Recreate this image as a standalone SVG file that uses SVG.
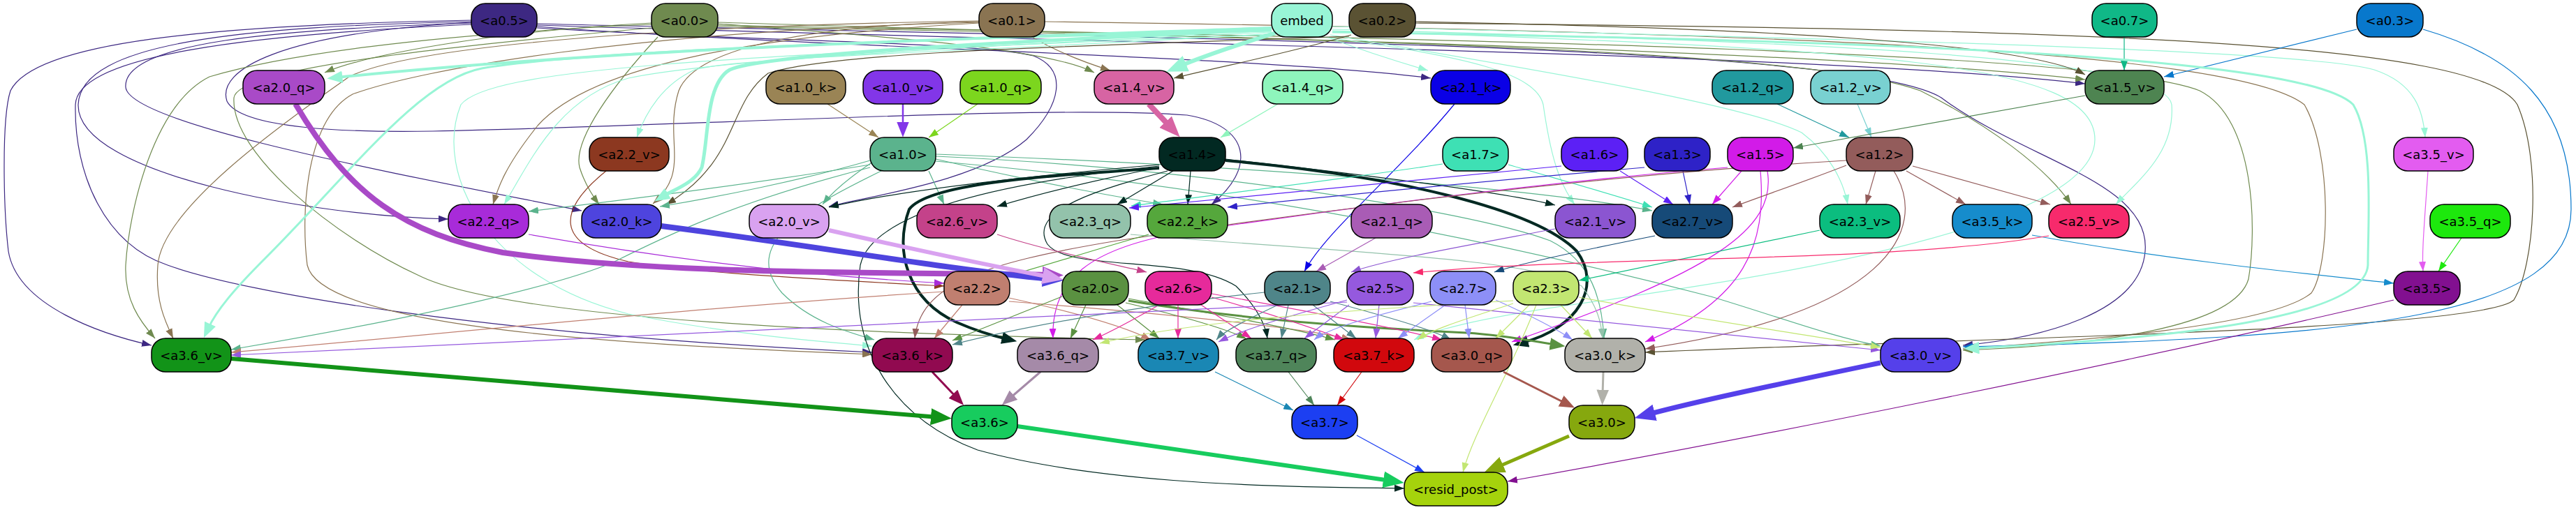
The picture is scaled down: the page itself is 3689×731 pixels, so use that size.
<svg xmlns="http://www.w3.org/2000/svg" width="3689" height="731" viewBox="0 0 3689 731">
<style>
.node rect{stroke:#000;stroke-width:1.5}
.node text{font-family:"DejaVu Sans","Liberation Sans",sans-serif;font-size:18px;text-anchor:middle;fill:#000}
#connectors path{fill:none;stroke-width:1.2}
#connectors .w2{stroke-width:2.5}#connectors .w3{stroke-width:3}#connectors .w4{stroke-width:4}#connectors .w5{stroke-width:5}#connectors .w6{stroke-width:6}#connectors .w7{stroke-width:7}#connectors .w8{stroke-width:8}
.k05{stroke:#3d2882}.k00{stroke:#6f8a4f}.k01{stroke:#8a7452}.kem{stroke:#98f5d6}.k02{stroke:#5a5233}.k07{stroke:#10b887}.k03{stroke:#0878cc}
.k20q{stroke:#a94ac7}.k10k{stroke:#9a8455}.k10v{stroke:#8236e8}.k10q{stroke:#7cd61e}.k14v{stroke:#d764a3}.k14q{stroke:#8ef5bc}.k21k{stroke:#0a00e6}.k12q{stroke:#21999e}.k12v{stroke:#79d1d1}.k15v{stroke:#4e8451}
.k22v{stroke:#8c3820}.k10{stroke:#5bb38d}.k14{stroke:#022922}.k17{stroke:#3ee0b4}.k16{stroke:#5c20f5}.k13{stroke:#2e22c7}.k15{stroke:#d21be8}.k12{stroke:#935c5b}.k35v{stroke:#e35cf0}
.k22q{stroke:#a82bd9}.k20k{stroke:#4e44de}.k20v{stroke:#d9a2f0}.k26v{stroke:#c4428a}.k23q{stroke:#93c2ab}.k22k{stroke:#55a73c}.k21q{stroke:#a95cb5}.k21v{stroke:#8b55d1}.k27v{stroke:#164a78}.k23v{stroke:#0bbd7f}.k35k{stroke:#168ccc}.k25v{stroke:#f72a6c}.k35q{stroke:#1de80d}
.k22{stroke:#c07f70}.k20{stroke:#5a9141}.k26{stroke:#e62a9b}.k21{stroke:#4f8589}.k25{stroke:#9559de}.k27{stroke:#8d8ff7}.k23{stroke:#c2e672}.k35{stroke:#821090}
.k36v{stroke:#129318}.k36k{stroke:#910a50}.k36q{stroke:#a58aa8}.k37v{stroke:#1a87b4}.k37q{stroke:#4f855a}.k37k{stroke:#d1080d}.k30q{stroke:#a5574d}.k30k{stroke:#b1b1aa}.k30v{stroke:#5540ea}
.k36{stroke:#17cc5e}.k37{stroke:#1c3ff2}.k30{stroke:#86a80e}
</style>
<defs>
<marker id="s05" viewBox="0 0 14 10" refX="14" refY="5" markerWidth="14" markerHeight="10" markerUnits="userSpaceOnUse" orient="auto"><path d="M0,0L14,5L0,10z" fill="#3d2882"/></marker>
<marker id="s00" viewBox="0 0 14 10" refX="14" refY="5" markerWidth="14" markerHeight="10" markerUnits="userSpaceOnUse" orient="auto"><path d="M0,0L14,5L0,10z" fill="#6f8a4f"/></marker>
<marker id="s01" viewBox="0 0 14 10" refX="14" refY="5" markerWidth="14" markerHeight="10" markerUnits="userSpaceOnUse" orient="auto"><path d="M0,0L14,5L0,10z" fill="#8a7452"/></marker>
<marker id="sem" viewBox="0 0 14 10" refX="14" refY="5" markerWidth="14" markerHeight="10" markerUnits="userSpaceOnUse" orient="auto"><path d="M0,0L14,5L0,10z" fill="#98f5d6"/></marker>
<marker id="s02" viewBox="0 0 14 10" refX="14" refY="5" markerWidth="14" markerHeight="10" markerUnits="userSpaceOnUse" orient="auto"><path d="M0,0L14,5L0,10z" fill="#5a5233"/></marker>
<marker id="s07" viewBox="0 0 14 10" refX="14" refY="5" markerWidth="14" markerHeight="10" markerUnits="userSpaceOnUse" orient="auto"><path d="M0,0L14,5L0,10z" fill="#10b887"/></marker>
<marker id="s03" viewBox="0 0 14 10" refX="14" refY="5" markerWidth="14" markerHeight="10" markerUnits="userSpaceOnUse" orient="auto"><path d="M0,0L14,5L0,10z" fill="#0878cc"/></marker>
<marker id="s10k" viewBox="0 0 14 10" refX="14" refY="5" markerWidth="14" markerHeight="10" markerUnits="userSpaceOnUse" orient="auto"><path d="M0,0L14,5L0,10z" fill="#9a8455"/></marker>
<marker id="s10q" viewBox="0 0 14 10" refX="14" refY="5" markerWidth="14" markerHeight="10" markerUnits="userSpaceOnUse" orient="auto"><path d="M0,0L14,5L0,10z" fill="#7cd61e"/></marker>
<marker id="s14q" viewBox="0 0 14 10" refX="14" refY="5" markerWidth="14" markerHeight="10" markerUnits="userSpaceOnUse" orient="auto"><path d="M0,0L14,5L0,10z" fill="#8ef5bc"/></marker>
<marker id="s21k" viewBox="0 0 14 10" refX="14" refY="5" markerWidth="14" markerHeight="10" markerUnits="userSpaceOnUse" orient="auto"><path d="M0,0L14,5L0,10z" fill="#0a00e6"/></marker>
<marker id="s12q" viewBox="0 0 14 10" refX="14" refY="5" markerWidth="14" markerHeight="10" markerUnits="userSpaceOnUse" orient="auto"><path d="M0,0L14,5L0,10z" fill="#21999e"/></marker>
<marker id="s12v" viewBox="0 0 14 10" refX="14" refY="5" markerWidth="14" markerHeight="10" markerUnits="userSpaceOnUse" orient="auto"><path d="M0,0L14,5L0,10z" fill="#79d1d1"/></marker>
<marker id="s15v" viewBox="0 0 14 10" refX="14" refY="5" markerWidth="14" markerHeight="10" markerUnits="userSpaceOnUse" orient="auto"><path d="M0,0L14,5L0,10z" fill="#4e8451"/></marker>
<marker id="s22v" viewBox="0 0 14 10" refX="14" refY="5" markerWidth="14" markerHeight="10" markerUnits="userSpaceOnUse" orient="auto"><path d="M0,0L14,5L0,10z" fill="#8c3820"/></marker>
<marker id="s10" viewBox="0 0 14 10" refX="14" refY="5" markerWidth="14" markerHeight="10" markerUnits="userSpaceOnUse" orient="auto"><path d="M0,0L14,5L0,10z" fill="#5bb38d"/></marker>
<marker id="s14" viewBox="0 0 14 10" refX="14" refY="5" markerWidth="14" markerHeight="10" markerUnits="userSpaceOnUse" orient="auto"><path d="M0,0L14,5L0,10z" fill="#022922"/></marker>
<marker id="s17" viewBox="0 0 14 10" refX="14" refY="5" markerWidth="14" markerHeight="10" markerUnits="userSpaceOnUse" orient="auto"><path d="M0,0L14,5L0,10z" fill="#3ee0b4"/></marker>
<marker id="s16" viewBox="0 0 14 10" refX="14" refY="5" markerWidth="14" markerHeight="10" markerUnits="userSpaceOnUse" orient="auto"><path d="M0,0L14,5L0,10z" fill="#5c20f5"/></marker>
<marker id="s13" viewBox="0 0 14 10" refX="14" refY="5" markerWidth="14" markerHeight="10" markerUnits="userSpaceOnUse" orient="auto"><path d="M0,0L14,5L0,10z" fill="#2e22c7"/></marker>
<marker id="s15" viewBox="0 0 14 10" refX="14" refY="5" markerWidth="14" markerHeight="10" markerUnits="userSpaceOnUse" orient="auto"><path d="M0,0L14,5L0,10z" fill="#d21be8"/></marker>
<marker id="s12" viewBox="0 0 14 10" refX="14" refY="5" markerWidth="14" markerHeight="10" markerUnits="userSpaceOnUse" orient="auto"><path d="M0,0L14,5L0,10z" fill="#935c5b"/></marker>
<marker id="s35v" viewBox="0 0 14 10" refX="14" refY="5" markerWidth="14" markerHeight="10" markerUnits="userSpaceOnUse" orient="auto"><path d="M0,0L14,5L0,10z" fill="#e35cf0"/></marker>
<marker id="s35q" viewBox="0 0 14 10" refX="14" refY="5" markerWidth="14" markerHeight="10" markerUnits="userSpaceOnUse" orient="auto"><path d="M0,0L14,5L0,10z" fill="#1de80d"/></marker>
<marker id="s22q" viewBox="0 0 14 10" refX="14" refY="5" markerWidth="14" markerHeight="10" markerUnits="userSpaceOnUse" orient="auto"><path d="M0,0L14,5L0,10z" fill="#a82bd9"/></marker>
<marker id="s26v" viewBox="0 0 14 10" refX="14" refY="5" markerWidth="14" markerHeight="10" markerUnits="userSpaceOnUse" orient="auto"><path d="M0,0L14,5L0,10z" fill="#c4428a"/></marker>
<marker id="s23q" viewBox="0 0 14 10" refX="14" refY="5" markerWidth="14" markerHeight="10" markerUnits="userSpaceOnUse" orient="auto"><path d="M0,0L14,5L0,10z" fill="#93c2ab"/></marker>
<marker id="s22k" viewBox="0 0 14 10" refX="14" refY="5" markerWidth="14" markerHeight="10" markerUnits="userSpaceOnUse" orient="auto"><path d="M0,0L14,5L0,10z" fill="#55a73c"/></marker>
<marker id="s21q" viewBox="0 0 14 10" refX="14" refY="5" markerWidth="14" markerHeight="10" markerUnits="userSpaceOnUse" orient="auto"><path d="M0,0L14,5L0,10z" fill="#a95cb5"/></marker>
<marker id="s21v" viewBox="0 0 14 10" refX="14" refY="5" markerWidth="14" markerHeight="10" markerUnits="userSpaceOnUse" orient="auto"><path d="M0,0L14,5L0,10z" fill="#8b55d1"/></marker>
<marker id="s27v" viewBox="0 0 14 10" refX="14" refY="5" markerWidth="14" markerHeight="10" markerUnits="userSpaceOnUse" orient="auto"><path d="M0,0L14,5L0,10z" fill="#164a78"/></marker>
<marker id="s23v" viewBox="0 0 14 10" refX="14" refY="5" markerWidth="14" markerHeight="10" markerUnits="userSpaceOnUse" orient="auto"><path d="M0,0L14,5L0,10z" fill="#0bbd7f"/></marker>
<marker id="s35k" viewBox="0 0 14 10" refX="14" refY="5" markerWidth="14" markerHeight="10" markerUnits="userSpaceOnUse" orient="auto"><path d="M0,0L14,5L0,10z" fill="#168ccc"/></marker>
<marker id="s25v" viewBox="0 0 14 10" refX="14" refY="5" markerWidth="14" markerHeight="10" markerUnits="userSpaceOnUse" orient="auto"><path d="M0,0L14,5L0,10z" fill="#f72a6c"/></marker>
<marker id="s22" viewBox="0 0 14 10" refX="14" refY="5" markerWidth="14" markerHeight="10" markerUnits="userSpaceOnUse" orient="auto"><path d="M0,0L14,5L0,10z" fill="#c07f70"/></marker>
<marker id="s20" viewBox="0 0 14 10" refX="14" refY="5" markerWidth="14" markerHeight="10" markerUnits="userSpaceOnUse" orient="auto"><path d="M0,0L14,5L0,10z" fill="#5a9141"/></marker>
<marker id="s26" viewBox="0 0 14 10" refX="14" refY="5" markerWidth="14" markerHeight="10" markerUnits="userSpaceOnUse" orient="auto"><path d="M0,0L14,5L0,10z" fill="#e62a9b"/></marker>
<marker id="s21" viewBox="0 0 14 10" refX="14" refY="5" markerWidth="14" markerHeight="10" markerUnits="userSpaceOnUse" orient="auto"><path d="M0,0L14,5L0,10z" fill="#4f8589"/></marker>
<marker id="s25" viewBox="0 0 14 10" refX="14" refY="5" markerWidth="14" markerHeight="10" markerUnits="userSpaceOnUse" orient="auto"><path d="M0,0L14,5L0,10z" fill="#9559de"/></marker>
<marker id="s27" viewBox="0 0 14 10" refX="14" refY="5" markerWidth="14" markerHeight="10" markerUnits="userSpaceOnUse" orient="auto"><path d="M0,0L14,5L0,10z" fill="#8d8ff7"/></marker>
<marker id="s23" viewBox="0 0 14 10" refX="14" refY="5" markerWidth="14" markerHeight="10" markerUnits="userSpaceOnUse" orient="auto"><path d="M0,0L14,5L0,10z" fill="#c2e672"/></marker>
<marker id="s35" viewBox="0 0 14 10" refX="14" refY="5" markerWidth="14" markerHeight="10" markerUnits="userSpaceOnUse" orient="auto"><path d="M0,0L14,5L0,10z" fill="#821090"/></marker>
<marker id="s37v" viewBox="0 0 14 10" refX="14" refY="5" markerWidth="14" markerHeight="10" markerUnits="userSpaceOnUse" orient="auto"><path d="M0,0L14,5L0,10z" fill="#1a87b4"/></marker>
<marker id="s37q" viewBox="0 0 14 10" refX="14" refY="5" markerWidth="14" markerHeight="10" markerUnits="userSpaceOnUse" orient="auto"><path d="M0,0L14,5L0,10z" fill="#4f855a"/></marker>
<marker id="s37k" viewBox="0 0 14 10" refX="14" refY="5" markerWidth="14" markerHeight="10" markerUnits="userSpaceOnUse" orient="auto"><path d="M0,0L14,5L0,10z" fill="#d1080d"/></marker>
<marker id="s37" viewBox="0 0 14 10" refX="14" refY="5" markerWidth="14" markerHeight="10" markerUnits="userSpaceOnUse" orient="auto"><path d="M0,0L14,5L0,10z" fill="#1c3ff2"/></marker>
<marker id="mem" viewBox="0 0 15 12" refX="5" refY="6" markerWidth="22" markerHeight="17.6" markerUnits="userSpaceOnUse" orient="auto"><path d="M0,0L15,6L0,12z" fill="#98f5d6"/></marker>
<marker id="m14" viewBox="0 0 15 12" refX="5" refY="6" markerWidth="22" markerHeight="17.6" markerUnits="userSpaceOnUse" orient="auto"><path d="M0,0L15,6L0,12z" fill="#022922"/></marker>
<marker id="m10v" viewBox="0 0 15 12" refX="5" refY="6" markerWidth="22" markerHeight="17.6" markerUnits="userSpaceOnUse" orient="auto"><path d="M0,0L15,6L0,12z" fill="#8236e8"/></marker>
<marker id="m20" viewBox="0 0 15 12" refX="5" refY="6" markerWidth="22" markerHeight="17.6" markerUnits="userSpaceOnUse" orient="auto"><path d="M0,0L15,6L0,12z" fill="#5a9141"/></marker>
<marker id="m30q" viewBox="0 0 15 12" refX="5" refY="6" markerWidth="22" markerHeight="17.6" markerUnits="userSpaceOnUse" orient="auto"><path d="M0,0L15,6L0,12z" fill="#a5574d"/></marker>
<marker id="m30k" viewBox="0 0 15 12" refX="5" refY="6" markerWidth="22" markerHeight="17.6" markerUnits="userSpaceOnUse" orient="auto"><path d="M0,0L15,6L0,12z" fill="#b1b1aa"/></marker>
<marker id="m36k" viewBox="0 0 15 12" refX="5" refY="6" markerWidth="22" markerHeight="17.6" markerUnits="userSpaceOnUse" orient="auto"><path d="M0,0L15,6L0,12z" fill="#910a50"/></marker>
<marker id="m36q" viewBox="0 0 15 12" refX="5" refY="6" markerWidth="22" markerHeight="17.6" markerUnits="userSpaceOnUse" orient="auto"><path d="M0,0L15,6L0,12z" fill="#a58aa8"/></marker>
<marker id="bem" viewBox="0 0 15 12" refX="5" refY="6" markerWidth="30" markerHeight="24" markerUnits="userSpaceOnUse" orient="auto"><path d="M0,0L15,6L0,12z" fill="#98f5d6"/></marker>
<marker id="b14v" viewBox="0 0 15 12" refX="5" refY="6" markerWidth="30" markerHeight="24" markerUnits="userSpaceOnUse" orient="auto"><path d="M0,0L15,6L0,12z" fill="#d764a3"/></marker>
<marker id="b20q" viewBox="0 0 15 12" refX="5" refY="6" markerWidth="30" markerHeight="24" markerUnits="userSpaceOnUse" orient="auto"><path d="M0,0L15,6L0,12z" fill="#a94ac7"/></marker>
<marker id="b20k" viewBox="0 0 15 12" refX="5" refY="6" markerWidth="30" markerHeight="24" markerUnits="userSpaceOnUse" orient="auto"><path d="M0,0L15,6L0,12z" fill="#4e44de"/></marker>
<marker id="b20v" viewBox="0 0 15 12" refX="5" refY="6" markerWidth="30" markerHeight="24" markerUnits="userSpaceOnUse" orient="auto"><path d="M0,0L15,6L0,12z" fill="#d9a2f0"/></marker>
<marker id="b36v" viewBox="0 0 15 12" refX="5" refY="6" markerWidth="30" markerHeight="24" markerUnits="userSpaceOnUse" orient="auto"><path d="M0,0L15,6L0,12z" fill="#129318"/></marker>
<marker id="b36" viewBox="0 0 15 12" refX="5" refY="6" markerWidth="30" markerHeight="24" markerUnits="userSpaceOnUse" orient="auto"><path d="M0,0L15,6L0,12z" fill="#17cc5e"/></marker>
<marker id="b30v" viewBox="0 0 15 12" refX="5" refY="6" markerWidth="30" markerHeight="24" markerUnits="userSpaceOnUse" orient="auto"><path d="M0,0L15,6L0,12z" fill="#5540ea"/></marker>
<marker id="b30" viewBox="0 0 15 12" refX="5" refY="6" markerWidth="30" markerHeight="24" markerUnits="userSpaceOnUse" orient="auto"><path d="M0,0L15,6L0,12z" fill="#86a80e"/></marker>
</defs>
<rect width="3689" height="731" fill="#fff"/>
<g id="connectors">
<path class="k05" marker-end="url(#s05)" d="M769,38 C1200,70 1800,80 2049,112"/>
<path class="k05" marker-end="url(#s05)" d="M769,36 C1500,60 2600,75 2986,120"/>
<path class="k05" marker-end="url(#s05)" d="M769,34 C1600,55 2650,60 2780,140 C2900,230 3080,260 3072,360 C3065,450 2920,485 2811,495"/>
<path class="k05" marker-end="url(#s05)" d="M675,33 C400,42 175,60 180,125 C185,180 600,255 833,302"/>
<path class="k05" marker-end="url(#s05)" d="M675,31 C350,38 115,60 112,150 C110,250 450,310 642,314"/>
<path class="k05" marker-end="url(#s05)" d="M675,29 C300,36 50,60 15,130 C2,170 5,300 12,360 C25,440 150,480 217,495"/>
<path class="k05" marker-end="url(#s05)" d="M675,35 C350,50 110,80 108,150 C106,250 150,350 240,380 C350,420 700,480 1249,505"/>
<path class="k05" marker-end="url(#s05)" d="M675,32 C400,48 310,100 325,145 C345,185 500,190 620,188 C1000,180 1500,150 1700,165 C1790,180 1800,240 1735,293"/>
<path class="k05" marker-end="url(#s05)" d="M769,40 C1100,60 1400,60 1480,80 C1530,100 1520,150 1470,200 C1400,260 1250,280 1187,296"/>
<path class="k00" marker-end="url(#s00)" d="M942,53 C880,120 820,200 830,240 C838,265 848,280 858,293"/>
<path class="k00" marker-end="url(#s00)" d="M933,33 C700,45 520,80 465,104"/>
<path class="k00" marker-end="url(#s00)" d="M1028,34 C1300,55 1500,70 1567,104"/>
<path class="k00" marker-end="url(#s00)" d="M1028,32 C1600,50 2600,70 2986,114"/>
<path class="k00" marker-end="url(#s00)" d="M1028,36 C2000,55 3000,70 3150,130 C3230,170 3232,330 3220,400 C3200,470 3000,495 2811,502"/>
<path class="k00" marker-end="url(#s00)" d="M1028,38 C2000,55 2600,75 2750,130 C2850,180 2930,240 2966,293"/>
<path class="k00" marker-end="url(#s00)" d="M933,35 C600,50 400,80 300,110 C220,150 185,300 180,380 C178,430 200,460 222,485"/>
<path class="k00" marker-end="url(#s00)" d="M933,40 C600,70 340,100 335,140 C330,220 480,340 600,395 C720,455 1200,478 1640,487"/>
<path class="k01" marker-end="url(#s01)" d="M1478,53 C1515,75 1555,90 1590,101"/>
<path class="k01" marker-end="url(#s01)" d="M1402,31 C1200,35 1000,60 972,130 C950,200 990,245 935,292"/>
<path class="k01" marker-end="url(#s01)" d="M1402,33 C1100,50 850,90 770,180 C722,240 713,270 706,293"/>
<path class="k01" marker-end="url(#s01)" d="M1402,30 C900,38 580,70 500,110 C400,180 232,300 226,380 C222,430 236,460 248,485"/>
<path class="k01" marker-end="url(#s01)" d="M1402,32 C900,45 600,100 505,135 C440,170 430,300 440,380 C460,470 900,495 1249,508"/>
<path class="k01" marker-end="url(#s01)" d="M1496,31 C2500,45 3200,70 3300,150 C3340,220 3337,380 3310,420 C3250,470 2950,490 2811,500"/>
<path class="kem" marker-end="url(#sem)" d="M1821,46 C1300,70 1000,90 900,112 C800,140 760,230 722,293"/>
<path class="kem" marker-end="url(#sem)" d="M1821,48 C1500,70 1060,80 995,100 C950,120 925,160 912,197"/>
<path class="kem" marker-end="url(#sem)" d="M1900,53 C1950,72 2000,88 2045,101"/>
<path class="kem" marker-end="url(#sem)" d="M1895,53 C2100,80 2200,105 2210,150 C2220,220 2232,262 2255,293"/>
<path class="kem" marker-end="url(#sem)" d="M1908,38 C2600,55 3300,70 3400,100 C3460,120 3470,160 3473,197"/>
<path class="kem" marker-end="url(#sem)" d="M1908,42 C2600,60 3100,80 3110,150 C3115,220 3060,260 3030,293"/>
<path class="kem" marker-end="url(#sem)" d="M1905,50 C2200,100 2500,150 2580,190 C2620,220 2640,260 2646,293"/>
<path class="kem" marker-end="url(#sem)" d="M1821,50 C1000,80 700,100 660,150 C620,250 700,400 900,450 C1050,480 1180,490 1249,496"/>
<path class="kem" marker-end="url(#sem)" d="M1908,44 C2700,70 3000,90 3000,200 C3000,330 2500,400 2300,430 C2150,450 2060,470 2025,487"/>
<path class="k02" marker-end="url(#s02)" d="M1935,50 C1850,75 1750,95 1681,112"/>
<path class="k02" marker-end="url(#s02)" d="M1932,52 C1600,65 1200,72 1100,105 C1040,150 1060,230 954,293"/>
<path class="k02" marker-end="url(#s02)" d="M2027,31 C2500,40 2900,60 2986,107"/>
<path class="k02" marker-end="url(#s02)" d="M2027,33 C3000,42 3550,60 3605,150 C3640,230 3630,380 3600,430 C3550,475 2800,485 2356,505"/>
<path class="k07" marker-end="url(#s07)" d="M3042,53 L3042,101"/>
<path class="k03" marker-end="url(#s03)" d="M3375,42 L3099,110"/>
<path class="k03" marker-end="url(#s03)" d="M3470,42 C3600,80 3682,150 3682,300 C3682,450 3400,485 2811,497"/>
<path class="k10k" marker-end="url(#s10k)" d="M1185,149 L1258,197"/>
<path class="k10q" marker-end="url(#s10q)" d="M1400,149 L1330,197"/>
<path class="k14q" marker-end="url(#s14q)" d="M1830,149 L1748,197"/>
<path class="k21k" marker-end="url(#s21k)" d="M2083,149 C2000,250 1900,330 1868,389"/>
<path class="k12q" marker-end="url(#s12q)" d="M2545,149 L2648,197"/>
<path class="k12v" marker-end="url(#s12v)" d="M2660,149 L2680,197"/>
<path class="k15v" marker-end="url(#s15v)" d="M2986,137 L2568,212"/>
<path class="k22v" marker-end="url(#s22v)" d="M868,245 C800,300 790,350 900,375 C1000,392 1200,402 1352,410"/>
<path class="k10" marker-end="url(#s10)" d="M1330,245 L1352,293"/>
<path class="k10" marker-end="url(#s10)" d="M1340,228 C1500,265 1600,282 1665,293"/>
<path class="k10" marker-end="url(#s10)" d="M1250,232 C1220,252 1192,275 1178,293"/>
<path class="k10" marker-end="url(#s10)" d="M1246,230 C1150,258 1030,282 945,296"/>
<path class="k10" marker-end="url(#s10)" d="M1246,236 C1050,268 850,292 757,303"/>
<path class="k10" marker-end="url(#s10)" d="M1246,240 C1050,290 950,340 880,375 C800,410 600,455 331,501"/>
<path class="k10" marker-end="url(#s10)" d="M1262,245 C1150,300 1060,350 1120,420 C1160,460 1210,475 1252,487"/>
<path class="k10" marker-end="url(#s10)" d="M1340,224 C1700,240 2100,300 2220,345 C2280,375 2294,430 2297,485"/>
<path class="k10" marker-end="url(#s10)" d="M1340,231 C1800,270 2200,360 2450,425 C2550,455 2620,482 2693,496"/>
<path class="k10" marker-end="url(#s10)" d="M1340,221 C1800,238 2200,270 2366,302"/>
<path class="k14" marker-end="url(#s14)" d="M1705,245 L1701,293"/>
<path class="k14" marker-end="url(#s14)" d="M1680,245 L1600,293"/>
<path class="k14" marker-end="url(#s14)" d="M1660,240 C1560,260 1480,280 1428,296"/>
<path class="k14" marker-end="url(#s14)" d="M1755,228 C1950,250 2150,275 2227,294"/>
<path class="k14" marker-end="url(#s14)" d="M1660,236 C1500,250 1300,270 1187,297"/>
<path class="k14" marker-end="url(#s14)" d="M1672,245 C1580,270 1470,300 1500,350 C1530,390 1700,365 1770,410 C1800,440 1812,465 1815,485"/>
<path class="k14" marker-end="url(#s14)" d="M1660,238 C1450,260 1250,300 1232,380 C1215,500 1280,600 1400,645 C1600,700 1900,698 2011,700"/>
<path class="k14 w4" marker-end="url(#m14)" d="M1660,241 C1500,252 1330,262 1302,300 C1280,360 1300,430 1370,462 C1400,475 1425,482 1442,486"/>
<path class="k14 w4" marker-end="url(#m14)" d="M1755,230 C2000,252 2200,300 2258,360 C2295,410 2260,470 2181,491"/>
<path class="k17" marker-end="url(#s17)" d="M2160,236 C2250,262 2320,282 2366,297"/>
<path class="k17" marker-end="url(#s17)" d="M2066,235 C1900,260 1750,278 1620,295"/>
<path class="k16" marker-end="url(#s16)" d="M2320,245 L2396,293"/>
<path class="k16" marker-end="url(#s16)" d="M2236,238 C2000,262 1800,282 1617,298"/>
<path class="k13" marker-end="url(#s13)" d="M2410,245 L2420,293"/>
<path class="k13" marker-end="url(#s13)" d="M2355,240 C2100,262 1900,282 1758,297"/>
<path class="k15" marker-end="url(#s15)" d="M2494,245 L2452,293"/>
<path class="k15" marker-end="url(#s15)" d="M2521,245 C2530,350 2500,430 2356,490"/>
<path class="k15" marker-end="url(#s15)" d="M2531,245 C2545,330 2450,390 2165,490"/>
<path class="k15" marker-end="url(#s15)" d="M2474,240 C2200,262 1900,302 1700,332 C1560,355 1505,400 1508,485"/>
<path class="k12" marker-end="url(#s12)" d="M2644,237 C2580,262 2520,282 2481,297"/>
<path class="k12" marker-end="url(#s12)" d="M2686,245 L2672,293"/>
<path class="k12" marker-end="url(#s12)" d="M2730,245 L2815,293"/>
<path class="k12" marker-end="url(#s12)" d="M2739,238 L2936,293"/>
<path class="k12" marker-end="url(#s12)" d="M2712,245 C2765,330 2700,450 2356,500"/>
<path class="k12" marker-end="url(#s12)" d="M2644,230 C2300,250 1900,300 1600,345 C1400,378 1318,410 1310,485"/>
<path class="k35v" marker-end="url(#s35v)" d="M3477,245 C3472,320 3468,360 3470,389"/>
<path class="k35q" marker-end="url(#s35q)" d="M3525,341 L3492,389"/>
<path class="k22q" marker-end="url(#s22q)" d="M757,336 C950,370 1150,395 1352,406"/>
<path class="k26v" marker-end="url(#s26v)" d="M1428,336 C1500,360 1600,380 1642,390"/>
<path class="k23q" marker-end="url(#s23q)" d="M1619,336 C1900,360 2200,370 2265,410 C2288,440 2293,462 2295,485"/>
<path class="k22k" marker-end="url(#s22k)" d="M1645,336 C1560,360 1500,380 1445,395"/>
<path class="k21q" marker-end="url(#s21q)" d="M1970,341 L1885,389"/>
<path class="k21v" marker-end="url(#s21v)" d="M2227,328 C2100,352 1985,372 1935,390"/>
<path class="k27v" marker-end="url(#s27v)" d="M2370,338 C2250,362 2170,380 2140,390"/>
<path class="k23v" marker-end="url(#s23v)" d="M2606,330 C2450,362 2320,390 2261,402"/>
<path class="k35k" marker-end="url(#s35k)" d="M2910,337 C3100,372 3300,392 3428,406"/>
<path class="k25v" marker-end="url(#s25v)" d="M2934,338 C2700,378 2300,365 2024,391"/>
<path class="k22" marker-end="url(#s22)" d="M1378,437 L1338,485"/>
<path class="k22" marker-end="url(#s22)" d="M1352,418 C1000,440 600,482 331,505"/>
<path class="k22" marker-end="url(#s22)" d="M1445,427 C1550,450 1615,470 1648,487"/>
<path class="k22" marker-end="url(#s22)" d="M1445,432 C1700,452 1880,472 1935,487"/>
<path class="k20" marker-end="url(#s20)" d="M1521,425 C1460,450 1410,470 1364,488"/>
<path class="k20" marker-end="url(#s20)" d="M1555,437 L1533,485"/>
<path class="k20" marker-end="url(#s20)" d="M1600,437 L1660,485"/>
<path class="k20" marker-end="url(#s20)" d="M1612,434 C1700,455 1760,472 1785,486"/>
<path class="k20" marker-end="url(#s20)" d="M1616,428 C1750,452 1850,470 1912,487"/>
<path class="k20 w3" marker-end="url(#m20)" d="M1616,431 C1800,462 2000,472 2100,477 C2160,481 2200,490 2227,494"/>
<path class="k26" marker-end="url(#s26)" d="M1660,437 C1620,460 1590,476 1565,487"/>
<path class="k26" marker-end="url(#s26)" d="M1687,437 L1687,485"/>
<path class="k26" marker-end="url(#s26)" d="M1720,437 L1792,485"/>
<path class="k26" marker-end="url(#s26)" d="M1735,426 C1820,450 1880,470 1925,487"/>
<path class="k26" marker-end="url(#s26)" d="M1735,421 C1850,442 2000,470 2065,487"/>
<path class="k21" marker-end="url(#s21)" d="M1811,419 C1600,442 1450,472 1364,494"/>
<path class="k21" marker-end="url(#s21)" d="M1830,437 C1782,460 1752,475 1742,487"/>
<path class="k21" marker-end="url(#s21)" d="M1845,437 L1835,485"/>
<path class="k21" marker-end="url(#s21)" d="M1880,437 L1942,485"/>
<path class="k21" marker-end="url(#s21)" d="M1905,432 C1990,455 2050,472 2078,487"/>
<path class="k25" marker-end="url(#s25)" d="M1932,437 L1868,485"/>
<path class="k25" marker-end="url(#s25)" d="M1975,437 L1970,485"/>
<path class="k25" marker-end="url(#s25)" d="M1929,430 C1850,452 1780,472 1745,490"/>
<path class="k25" marker-end="url(#s25)" d="M2024,434 C2300,460 2550,486 2693,502"/>
<path class="k25" marker-end="url(#s25)" d="M1929,433 C1500,456 900,482 331,509"/>
<path class="k27" marker-end="url(#s27)" d="M2050,432 C1950,457 1900,472 1882,487"/>
<path class="k27" marker-end="url(#s27)" d="M2070,437 L2002,485"/>
<path class="k27" marker-end="url(#s27)" d="M2098,437 L2104,485"/>
<path class="k27" marker-end="url(#s27)" d="M2142,430 C2200,456 2230,472 2252,487"/>
<path class="k23" marker-end="url(#s23)" d="M2190,437 L2142,485"/>
<path class="k23" marker-end="url(#s23)" d="M2235,437 L2280,485"/>
<path class="k23" marker-end="url(#s23)" d="M2167,435 C2100,457 2050,472 2030,487"/>
<path class="k23" marker-end="url(#s23)" d="M2167,431 C1900,446 1700,462 1575,492"/>
<path class="k23" marker-end="url(#s23)" d="M2200,437 C2160,540 2110,620 2095,677"/>
<path class="k23" marker-end="url(#s23)" d="M2261,426 C2400,452 2600,482 2693,498"/>
<path class="k35" marker-end="url(#s35)" d="M3428,430 C3000,530 2500,630 2159,690"/>
<path class="k37v" marker-end="url(#s37v)" d="M1740,533 L1852,588"/>
<path class="k37q" marker-end="url(#s37q)" d="M1845,533 L1882,581"/>
<path class="k37k" marker-end="url(#s37k)" d="M1950,533 L1915,581"/>
<path class="k37" marker-end="url(#s37)" d="M1943,624 L2040,677"/>
<path class="kem w5" marker-end="url(#mem)" d="M1821,42 C1500,58 1100,75 1045,100 C1010,120 1015,200 1005,240 C995,262 965,272 950,281"/>
<path class="kem w4" marker-end="url(#mem)" d="M1821,40 C1400,55 900,68 483,111"/>
<path class="kem w3" marker-end="url(#mem)" d="M1821,44 C1200,58 800,78 690,98 C600,115 500,250 380,370 C335,415 310,445 298,471"/>
<path class="kem w3" marker-end="url(#mem)" d="M1908,46 C2700,58 3300,80 3370,150 C3400,200 3391,320 3391,380 C3385,470 3000,490 2827,499"/>
<path class="k10v w2" marker-end="url(#m10v)" d="M1293,149 L1293,182"/>
<path class="kem w6" marker-end="url(#bem)" d="M1827,47 C1770,65 1720,82 1689,95"/>
<path class="k14v w8" marker-end="url(#b14v)" d="M1645,149 L1676,182"/>
<path class="k20q w8" marker-end="url(#b20q)" d="M423,149 C500,280 580,335 720,362 C950,395 1300,390 1503,394"/>
<path class="k20k w8" marker-end="url(#b20k)" d="M947,324 C1150,350 1350,385 1503,400"/>
<path class="k20v w6" marker-end="url(#b20v)" d="M1187,330 C1320,360 1440,385 1503,397"/>
<path class="k36v w6" marker-end="url(#b36v)" d="M331,514 C700,545 1100,578 1343,598"/>
<path class="k36 w6" marker-end="url(#b36)" d="M1457,611 C1700,645 1880,672 1991,689"/>
<path class="k30v w7" marker-end="url(#b30v)" d="M2693,520 C2550,550 2430,575 2360,594"/>
<path class="k30 w5" marker-end="url(#b30)" d="M2247,625 L2143,670"/>
<path class="k30q w3" marker-end="url(#m30q)" d="M2153,533 L2242,578"/>
<path class="k30k w3" marker-end="url(#m30k)" d="M2296,533 L2295,566"/>
<path class="k36k w3" marker-end="url(#m36k)" d="M1335,533 L1370,570"/>
<path class="k36q w3" marker-end="url(#m36q)" d="M1490,533 L1446,571"/>
</g>
<g class="node" id="n_a0_5"><rect x="675" y="5" width="94" height="48" rx="20" fill="#3d2882"/><text x="722" y="35.5">&lt;a0.5&gt;</text></g>
<g class="node" id="n_a0_0"><rect x="933" y="5" width="95" height="48" rx="20" fill="#6f8a4f"/><text x="980.5" y="35.5">&lt;a0.0&gt;</text></g>
<g class="node" id="n_a0_1"><rect x="1402" y="5" width="94" height="48" rx="20" fill="#8a7452"/><text x="1449" y="35.5">&lt;a0.1&gt;</text></g>
<g class="node" id="n_embed"><rect x="1821" y="5" width="87" height="48" rx="20" fill="#98f5d6"/><text x="1864.5" y="35.5">embed</text></g>
<g class="node" id="n_a0_2"><rect x="1932" y="5" width="95" height="48" rx="20" fill="#5a5233"/><text x="1979.5" y="35.5">&lt;a0.2&gt;</text></g>
<g class="node" id="n_a0_7"><rect x="2996" y="5" width="93" height="48" rx="20" fill="#10b887"/><text x="3042.5" y="35.5">&lt;a0.7&gt;</text></g>
<g class="node" id="n_a0_3"><rect x="3375" y="5" width="95" height="48" rx="20" fill="#0878cc"/><text x="3422.5" y="35.5">&lt;a0.3&gt;</text></g>
<g class="node" id="n_a2_0_q"><rect x="348" y="101" width="117" height="48" rx="20" fill="#a94ac7"/><text x="406.5" y="131.5">&lt;a2.0_q&gt;</text></g>
<g class="node" id="n_a1_0_k"><rect x="1097" y="101" width="114" height="48" rx="20" fill="#9a8455"/><text x="1154" y="131.5">&lt;a1.0_k&gt;</text></g>
<g class="node" id="n_a1_0_v"><rect x="1236" y="101" width="114" height="48" rx="20" fill="#8236e8"/><text x="1293" y="131.5">&lt;a1.0_v&gt;</text></g>
<g class="node" id="n_a1_0_q"><rect x="1375" y="101" width="116" height="48" rx="20" fill="#7cd61e"/><text x="1433" y="131.5">&lt;a1.0_q&gt;</text></g>
<g class="node" id="n_a1_4_v"><rect x="1567" y="101" width="114" height="48" rx="20" fill="#d764a3"/><text x="1624" y="131.5">&lt;a1.4_v&gt;</text></g>
<g class="node" id="n_a1_4_q"><rect x="1808" y="101" width="115" height="48" rx="20" fill="#8ef5bc"/><text x="1865.5" y="131.5">&lt;a1.4_q&gt;</text></g>
<g class="node" id="n_a2_1_k"><rect x="2049" y="101" width="114" height="48" rx="20" fill="#0a00e6"/><text x="2106" y="131.5">&lt;a2.1_k&gt;</text></g>
<g class="node" id="n_a1_2_q"><rect x="2452" y="101" width="116" height="48" rx="20" fill="#21999e"/><text x="2510" y="131.5">&lt;a1.2_q&gt;</text></g>
<g class="node" id="n_a1_2_v"><rect x="2593" y="101" width="114" height="48" rx="20" fill="#79d1d1"/><text x="2650" y="131.5">&lt;a1.2_v&gt;</text></g>
<g class="node" id="n_a1_5_v"><rect x="2986" y="101" width="113" height="48" rx="20" fill="#4e8451"/><text x="3042.5" y="131.5">&lt;a1.5_v&gt;</text></g>
<g class="node" id="n_a2_2_v"><rect x="844" y="197" width="114" height="48" rx="20" fill="#8c3820"/><text x="901" y="227.5">&lt;a2.2_v&gt;</text></g>
<g class="node" id="n_a1_0"><rect x="1246" y="197" width="94" height="48" rx="20" fill="#5bb38d"/><text x="1293" y="227.5">&lt;a1.0&gt;</text></g>
<g class="node" id="n_a1_4"><rect x="1660" y="197" width="95" height="48" rx="20" fill="#022922"/><text x="1707.5" y="227.5">&lt;a1.4&gt;</text></g>
<g class="node" id="n_a1_7"><rect x="2066" y="197" width="94" height="48" rx="20" fill="#3ee0b4"/><text x="2113" y="227.5">&lt;a1.7&gt;</text></g>
<g class="node" id="n_a1_6"><rect x="2236" y="197" width="95" height="48" rx="20" fill="#5c20f5"/><text x="2283.5" y="227.5">&lt;a1.6&gt;</text></g>
<g class="node" id="n_a1_3"><rect x="2355" y="197" width="94" height="48" rx="20" fill="#2e22c7"/><text x="2402" y="227.5">&lt;a1.3&gt;</text></g>
<g class="node" id="n_a1_5"><rect x="2474" y="197" width="94" height="48" rx="20" fill="#d21be8"/><text x="2521" y="227.5">&lt;a1.5&gt;</text></g>
<g class="node" id="n_a1_2"><rect x="2644" y="197" width="95" height="48" rx="20" fill="#935c5b"/><text x="2691.5" y="227.5">&lt;a1.2&gt;</text></g>
<g class="node" id="n_a3_5_v"><rect x="3428" y="197" width="114" height="48" rx="20" fill="#e35cf0"/><text x="3485" y="227.5">&lt;a3.5_v&gt;</text></g>
<g class="node" id="n_a2_2_q"><rect x="642" y="293" width="115" height="48" rx="20" fill="#a82bd9"/><text x="699.5" y="323.5">&lt;a2.2_q&gt;</text></g>
<g class="node" id="n_a2_0_k"><rect x="833" y="293" width="114" height="48" rx="20" fill="#4e44de"/><text x="890" y="323.5">&lt;a2.0_k&gt;</text></g>
<g class="node" id="n_a2_0_v"><rect x="1073" y="293" width="114" height="48" rx="20" fill="#d9a2f0"/><text x="1130" y="323.5">&lt;a2.0_v&gt;</text></g>
<g class="node" id="n_a2_6_v"><rect x="1313" y="293" width="115" height="48" rx="20" fill="#c4428a"/><text x="1370.5" y="323.5">&lt;a2.6_v&gt;</text></g>
<g class="node" id="n_a2_3_q"><rect x="1503" y="293" width="116" height="48" rx="20" fill="#93c2ab"/><text x="1561" y="323.5">&lt;a2.3_q&gt;</text></g>
<g class="node" id="n_a2_2_k"><rect x="1643" y="293" width="115" height="48" rx="20" fill="#55a73c"/><text x="1700.5" y="323.5">&lt;a2.2_k&gt;</text></g>
<g class="node" id="n_a2_1_q"><rect x="1935" y="293" width="116" height="48" rx="20" fill="#a95cb5"/><text x="1993" y="323.5">&lt;a2.1_q&gt;</text></g>
<g class="node" id="n_a2_1_v"><rect x="2227" y="293" width="115" height="48" rx="20" fill="#8b55d1"/><text x="2284.5" y="323.5">&lt;a2.1_v&gt;</text></g>
<g class="node" id="n_a2_7_v"><rect x="2366" y="293" width="115" height="48" rx="20" fill="#164a78"/><text x="2423.5" y="323.5">&lt;a2.7_v&gt;</text></g>
<g class="node" id="n_a2_3_v"><rect x="2606" y="293" width="115" height="48" rx="20" fill="#0bbd7f"/><text x="2663.5" y="323.5">&lt;a2.3_v&gt;</text></g>
<g class="node" id="n_a3_5_k"><rect x="2796" y="293" width="114" height="48" rx="20" fill="#168ccc"/><text x="2853" y="323.5">&lt;a3.5_k&gt;</text></g>
<g class="node" id="n_a2_5_v"><rect x="2934" y="293" width="115" height="48" rx="20" fill="#f72a6c"/><text x="2991.5" y="323.5">&lt;a2.5_v&gt;</text></g>
<g class="node" id="n_a3_5_q"><rect x="3480" y="293" width="115" height="48" rx="20" fill="#1de80d"/><text x="3537.5" y="323.5">&lt;a3.5_q&gt;</text></g>
<g class="node" id="n_a2_2"><rect x="1352" y="389" width="94" height="48" rx="20" fill="#c07f70"/><text x="1399" y="419.5">&lt;a2.2&gt;</text></g>
<g class="node" id="n_a2_0"><rect x="1521" y="389" width="95" height="48" rx="20" fill="#5a9141"/><text x="1568.5" y="419.5">&lt;a2.0&gt;</text></g>
<g class="node" id="n_a2_6"><rect x="1640" y="389" width="95" height="48" rx="20" fill="#e62a9b"/><text x="1687.5" y="419.5">&lt;a2.6&gt;</text></g>
<g class="node" id="n_a2_1"><rect x="1811" y="389" width="94" height="48" rx="20" fill="#4f8589"/><text x="1858" y="419.5">&lt;a2.1&gt;</text></g>
<g class="node" id="n_a2_5"><rect x="1929" y="389" width="95" height="48" rx="20" fill="#9559de"/><text x="1976.5" y="419.5">&lt;a2.5&gt;</text></g>
<g class="node" id="n_a2_7"><rect x="2048" y="389" width="94" height="48" rx="20" fill="#8d8ff7"/><text x="2095" y="419.5">&lt;a2.7&gt;</text></g>
<g class="node" id="n_a2_3"><rect x="2167" y="389" width="94" height="48" rx="20" fill="#c2e672"/><text x="2214" y="419.5">&lt;a2.3&gt;</text></g>
<g class="node" id="n_a3_5"><rect x="3428" y="389" width="95" height="48" rx="20" fill="#821090"/><text x="3475.5" y="419.5">&lt;a3.5&gt;</text></g>
<g class="node" id="n_a3_6_v"><rect x="217" y="485" width="114" height="48" rx="20" fill="#129318"/><text x="274" y="515.5">&lt;a3.6_v&gt;</text></g>
<g class="node" id="n_a3_6_k"><rect x="1249" y="485" width="115" height="48" rx="20" fill="#910a50"/><text x="1306.5" y="515.5">&lt;a3.6_k&gt;</text></g>
<g class="node" id="n_a3_6_q"><rect x="1457" y="485" width="116" height="48" rx="20" fill="#a58aa8"/><text x="1515" y="515.5">&lt;a3.6_q&gt;</text></g>
<g class="node" id="n_a3_7_v"><rect x="1630" y="485" width="115" height="48" rx="20" fill="#1a87b4"/><text x="1687.5" y="515.5">&lt;a3.7_v&gt;</text></g>
<g class="node" id="n_a3_7_q"><rect x="1770" y="485" width="115" height="48" rx="20" fill="#4f855a"/><text x="1827.5" y="515.5">&lt;a3.7_q&gt;</text></g>
<g class="node" id="n_a3_7_k"><rect x="1910" y="485" width="115" height="48" rx="20" fill="#d1080d"/><text x="1967.5" y="515.5">&lt;a3.7_k&gt;</text></g>
<g class="node" id="n_a3_0_q"><rect x="2050" y="485" width="115" height="48" rx="20" fill="#a5574d"/><text x="2107.5" y="515.5">&lt;a3.0_q&gt;</text></g>
<g class="node" id="n_a3_0_k"><rect x="2241" y="485" width="115" height="48" rx="20" fill="#b1b1aa"/><text x="2298.5" y="515.5">&lt;a3.0_k&gt;</text></g>
<g class="node" id="n_a3_0_v"><rect x="2693" y="485" width="115" height="48" rx="20" fill="#5540ea"/><text x="2750.5" y="515.5">&lt;a3.0_v&gt;</text></g>
<g class="node" id="n_a3_6"><rect x="1363" y="581" width="94" height="48" rx="20" fill="#17cc5e"/><text x="1410" y="611.5">&lt;a3.6&gt;</text></g>
<g class="node" id="n_a3_7"><rect x="1850" y="581" width="94" height="48" rx="20" fill="#1c3ff2"/><text x="1897" y="611.5">&lt;a3.7&gt;</text></g>
<g class="node" id="n_a3_0"><rect x="2247" y="581" width="94" height="48" rx="20" fill="#86a80e"/><text x="2294" y="611.5">&lt;a3.0&gt;</text></g>
<g class="node" id="n_resid_post"><rect x="2011" y="677" width="148" height="48" rx="20" fill="#a5d30c"/><text x="2085" y="707.5">&lt;resid_post&gt;</text></g>
</svg>
